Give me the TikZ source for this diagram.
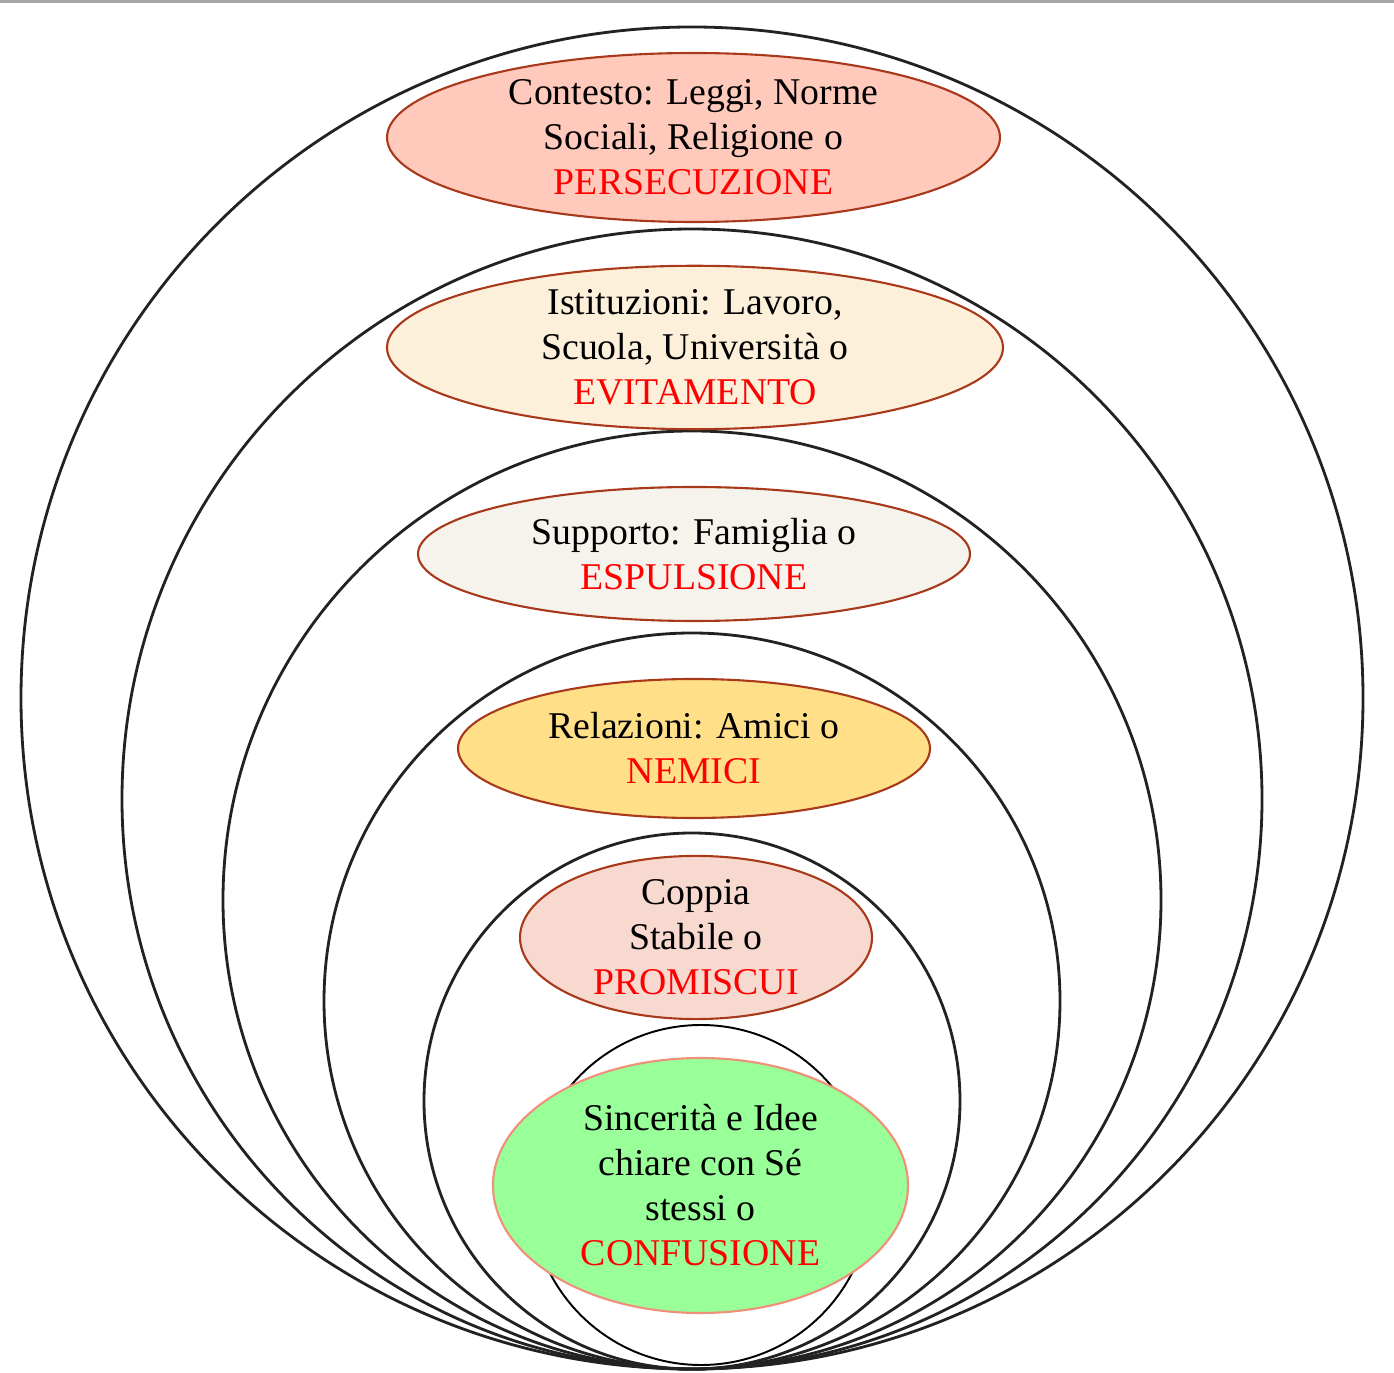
\documentclass[tikz,border=0pt]{standalone}
\usepackage{fontspec}
\setmainfont{Liberation Serif}
\usetikzlibrary{shapes.geometric}
\definecolor{contestofill}{HTML}{FFC9BC}
\definecolor{istitfill}{HTML}{FDF0DB}
\definecolor{supportofill}{HTML}{F5F3EB}
\definecolor{relazfill}{HTML}{FFDF88}
\definecolor{coppiafill}{HTML}{F8D9D0}
\definecolor{sefill}{HTML}{99FF99}
\definecolor{bordo}{HTML}{A8391B}
\definecolor{bordose}{HTML}{F0907A}
\definecolor{anello}{HTML}{222222}
\newcommand{\rosso}[1]{\textcolor{red}{#1}}
\begin{document}
\begin{tikzpicture}[font=\fontsize{21.5}{25.6}\selectfont, line join=round, line cap=round,
	bolla/.style={ellipse, draw=bordo, line width=1.2pt, inner sep=0pt, align=center}]
				\useasboundingbox (0,0) rectangle (27.88,27.44);
				\draw[gray!70, line width=1.2pt] (0,27.41)--(27.88,27.41);
				\foreach \r in {13.42,11.40,9.38,7.36,5.36}
					\draw[anello, line width=1.6pt] (13.84,{0.06+\r}) circle (\r);
				\draw[black, line width=1.1pt] (14.02,3.54) circle (3.40);
				\node[bolla, fill=contestofill, minimum width=12.26cm, minimum height=3.38cm] (contesto) at (13.87,24.69)
					{Contesto: Leggi, Norme\\ Sociali, Religione o\\ \rosso{PERSECUZIONE}};
				\node[bolla, fill=istitfill, minimum width=12.32cm, minimum height=3.02cm] (istituzioni) at (13.90,20.49)
					{Istituzioni: Lavoro,\\ Scuola, Università o\\ \rosso{EVITAMENTO}};
				\node[bolla, fill=supportofill, minimum width=11.04cm, minimum height=2.68cm] (supporto) at (13.88,16.36)
					{Supporto: Famiglia o\\ \rosso{ESPULSIONE}};
				\node[bolla, fill=relazfill, minimum width=9.44cm, minimum height=2.78cm] (relazioni) at (13.88,12.47)
					{Relazioni: Amici o\\ \rosso{NEMICI}};
				\node[bolla, fill=coppiafill, minimum width=7.04cm, minimum height=3.18cm] (coppia) at (13.92,8.69)
					{Coppia\\ Stabile o\\ \rosso{PROMISCUI}};
				\node[bolla, draw=bordose, fill=sefill, minimum width=8.30cm, minimum height=5.10cm] (se) at (14.01,3.73)
					{Sincerità e Idee\\ chiare con Sé\\ stessi o\\ \rosso{CONFUSIONE}};
			\end{tikzpicture}
\end{document}
